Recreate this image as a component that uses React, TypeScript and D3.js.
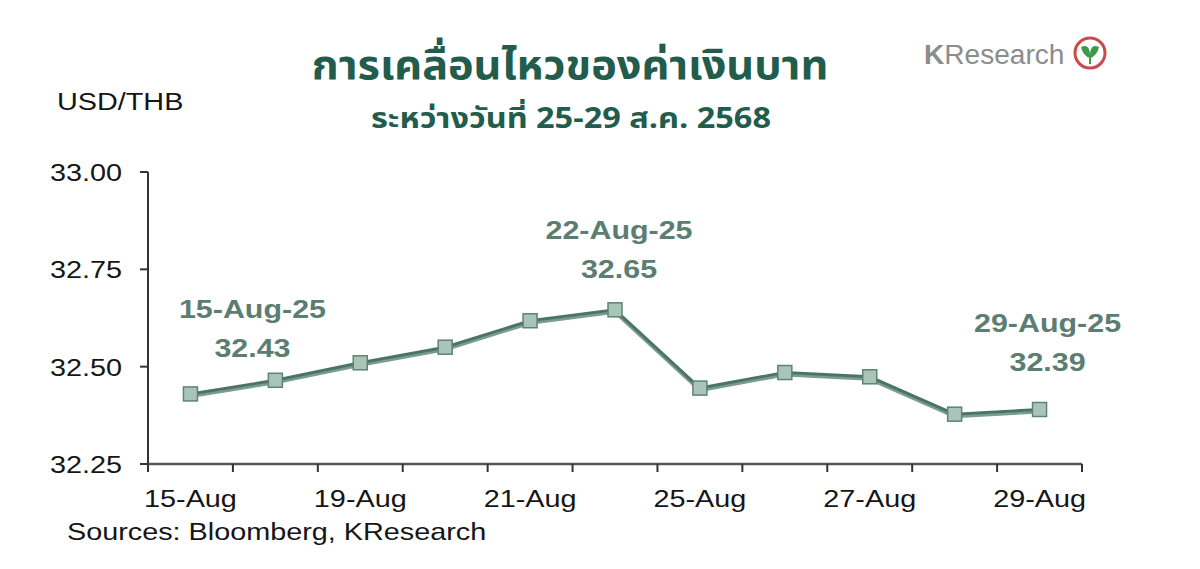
import React from "react";
import * as d3 from "d3";

const dates = ["15-Aug", "18-Aug", "19-Aug", "20-Aug", "21-Aug", "22-Aug", "25-Aug", "26-Aug", "27-Aug", "28-Aug", "29-Aug"];
const values = [32.43, 32.465, 32.51, 32.55, 32.618, 32.646, 32.445, 32.485, 32.474, 32.378, 32.39];
const labeledDates = ["15-Aug", "19-Aug", "21-Aug", "25-Aug", "27-Aug", "29-Aug"];
const yTicks = [32.25, 32.5, 32.75, 33.0];
const annotations = [
  { date: "15-Aug", title: "15-Aug-25", value: "32.43", dx: 62, dy: -76 },
  { date: "22-Aug", title: "22-Aug-25", value: "32.65", dx: 4, dy: -71 },
  { date: "29-Aug", title: "29-Aug-25", value: "32.39", dx: 8, dy: -77 },
];

const W = 1200;
const H = 569;
const left = 148;
const right = 1082;
const top = 172;
const bottom = 464;

type TProps = {
  x: number;
  y: number;
  sx?: number;
  anchor?: "start" | "middle" | "end";
  size: number;
  weight?: number;
  fill: string;
  family: string;
  children: React.ReactNode;
};

function T({ x, y, sx = 1.2, anchor = "start", size, weight = 400, fill, family, children }: TProps) {
  return (
    <text
      transform={`translate(${x},${y}) scale(${sx},1)`}
      textAnchor={anchor}
      fontFamily={family}
      fontSize={size}
      fontWeight={weight}
      fill={fill}
    >
      {children}
    </text>
  );
}

export default function App() {
  const x = d3.scaleBand<string>().domain(dates).range([left, right]);
  const y = d3.scaleLinear().domain([32.25, 33.0]).range([bottom, top]);
  const cx = (d: string) => (x(d) as number) + x.bandwidth() / 2;
  const pts: [number, number][] = dates.map((d, i) => [cx(d), y(values[i])]);
  const line = d3.line();
  const shadow = line(pts.map(([a, b]) => [a, b + 2.5] as [number, number])) as string;
  const main = line(pts) as string;
  const font = "'Liberation Sans', Arial, sans-serif";
  const thai = "'Noto Sans Thai', 'Noto Sans', 'DejaVu Sans', sans-serif";
  const annColor = "#5b7d72";
  const txt = "#151515";

  return (
    <svg width={W} height={H} style={{ position: "absolute", left: 0, top: 0, background: "#fff" }}>
      {/* Title */}
      <T x={570} y={79} sx={1.08} anchor="middle" family={thai} weight={700} size={40} fill="#215c4c">
        การเคลื่อนไหวของค่าเงินบาท
      </T>
      <T x={571} y={128} sx={1.16} anchor="middle" family={thai} weight={700} size={28} fill="#215c4c">
        ระหว่างวันที่ 25-29 ส.ค. 2568
      </T>
      {/* Logo */}
      <T x={924} y={64} sx={1.04} family={font} size={27} fill="#8c8c8c">
        <tspan fontWeight={700}>K</tspan>Research
      </T>
      <circle cx={1090} cy={53} r={15} fill="#fff" stroke="#c94a4a" strokeWidth={3} />
      <path d="M1081,47 Q1090,43 1090,56 Q1090,43 1099,47 Q1097,56 1090,58 Q1083,56 1081,47 Z" fill="#3a9a4a" />
      <line x1={1090} y1={56} x2={1090} y2={64} stroke="#3a9a4a" strokeWidth={2} />

      {/* Y label */}
      <T x={57} y={110} family={font} size={24} fill={txt}>USD/THB</T>

      {/* Axes */}
      <line x1={left} y1={top} x2={left} y2={bottom} stroke="#333" strokeWidth={2} />
      <line x1={left} y1={bottom} x2={right} y2={bottom} stroke="#555" strokeWidth={2.5} />
      {yTicks.map((t) => (
        <g key={t}>
          <line x1={left - 8} y1={y(t)} x2={left} y2={y(t)} stroke="#333" strokeWidth={2} />
          <T x={122} y={y(t) + 9} anchor="end" family={font} size={24} fill={txt}>
            {t.toFixed(2)}
          </T>
        </g>
      ))}
      {dates.map((d) => (
        <line key={d} x1={x(d) as number} y1={bottom} x2={x(d) as number} y2={bottom + 8} stroke="#333" strokeWidth={2} />
      ))}
      <line x1={right} y1={bottom} x2={right} y2={bottom + 8} stroke="#333" strokeWidth={2} />
      {labeledDates.map((d) => (
        <T key={d} x={cx(d)} y={507} anchor="middle" family={font} size={24} fill={txt}>
          {d}
        </T>
      ))}
      <T x={67} y={540} family={font} size={24} fill={txt}>Sources: Bloomberg, KResearch</T>

      {/* Line */}
      <path d={shadow} fill="none" stroke="#7c9c90" strokeWidth={3} />
      <path d={main} fill="none" stroke="#4a7565" strokeWidth={3} />
      {pts.map(([px, py], i) => (
        <rect key={i} x={px - 7} y={py - 7} width={14} height={14} fill="#a9c5ba" stroke="#5f8376" strokeWidth={1.5} />
      ))}

      {/* Annotations */}
      {annotations.map((a) => {
        const i = dates.indexOf(a.date);
        const ax = cx(a.date) + a.dx;
        const ay = y(values[i]) + a.dy;
        return (
          <g key={a.date}>
            <T x={ax} y={ay} sx={1.17} anchor="middle" family={font} weight={700} size={26} fill={annColor}>
              {a.title}
            </T>
            <T x={ax} y={ay + 39} sx={1.17} anchor="middle" family={font} weight={700} size={26} fill={annColor}>
              {a.value}
            </T>
          </g>
        );
      })}
    </svg>
  );
}
